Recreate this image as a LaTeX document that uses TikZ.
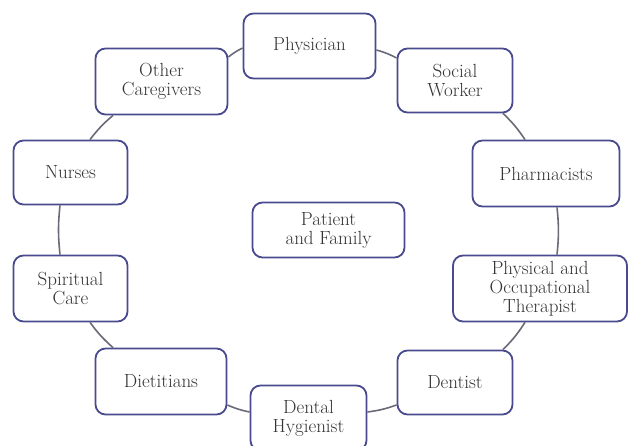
\documentclass[tikz,border=0pt]{standalone}
\definecolor{boxline}{HTML}{4A4A8E}
\definecolor{linkline}{HTML}{6A6A78}
\definecolor{txt}{HTML}{333333}
\tikzset{
  x=1pt,y=1pt,
  tbox/.style={draw=boxline, line width=1.8pt, rounded corners=10pt, fill=white,
    align=center, inner sep=0pt, text=txt,
    font=\fontsize{19}{19}\selectfont},
  link/.style={draw=linkline, line width=1.6pt, bend left=6}
}
\begin{document}
\begin{tikzpicture}
\useasboundingbox (0,0) rectangle (630,446);
\fill[white] (0,0) rectangle (630,446);
\node[tbox, minimum width=132pt, minimum height=65pt] (phys) at (309.5,400) {Physician};
\node[tbox, minimum width=132pt, minimum height=66pt] (oc) at (161.5,364.5) {Other\\Caregivers};
\node[tbox, minimum width=115pt, minimum height=64pt] (sw) at (455,365.5) {Social\\Worker};
\node[tbox, minimum width=114pt, minimum height=64pt] (nurses) at (70.5,273.5) {Nurses};
\node[tbox, minimum width=147pt, minimum height=66pt] (pharm) at (546,272.5) {Pharmacists};
\node[tbox, minimum width=152pt, minimum height=55pt] (pfam) at (328.5,216) {Patient\\and Family};
\node[tbox, minimum width=114pt, minimum height=66pt] (spir) at (70.5,157.5) {Spiritual\\Care};
\node[tbox, minimum width=174pt, minimum height=66pt] (pot) at (540,157.5) {Physical and\\Occupational\\Therapist};
\node[tbox, minimum width=131pt, minimum height=66pt] (diet) at (161,64.5) {Dietitians};
\node[tbox, minimum width=115pt, minimum height=64pt] (dent) at (455,63.5) {Dentist};
\node[tbox, minimum width=116pt, minimum height=65pt] (dh) at (308.5,28) {Dental\\Hygienist};
\draw[link] ([yshift=-4pt]phys.east) to ([yshift=22.5pt]sw.west);
\draw[link] ([xshift=48pt]sw.south) to ([xshift=-21pt]pharm.north);
\draw[link] ([xshift=11pt]pharm.south) to ([xshift=17pt]pot.north);
\draw[link] ([xshift=-15pt]pot.south) to ([xshift=48pt]dent.north);
\draw[link] ([yshift=-22.5pt]dent.west) to ([yshift=6pt]dh.east);
\draw[link] ([yshift=6pt]dh.west) to ([yshift=-23.5pt]diet.east);
\draw[link] ([xshift=-48pt]diet.north) to ([xshift=19.5pt]spir.south);
\draw[link] ([xshift=-10.5pt]spir.north) to ([xshift=-10.5pt]nurses.south);
\draw[link] ([xshift=19.5pt]nurses.north) to ([xshift=-48.5pt]oc.south);
\draw[link] ([yshift=24.5pt]oc.east) to ([yshift=-2pt]phys.west);
\end{tikzpicture}
\end{document}
